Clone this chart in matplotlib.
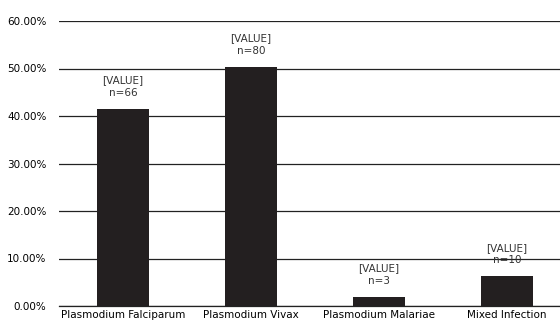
import matplotlib
matplotlib.use('Agg')
import matplotlib.pyplot as plt
from matplotlib.ticker import FuncFormatter

categories = ['Plasmodium Falciparum', 'Plasmodium Vivax', 'Plasmodium Malariae', 'Mixed Infection']
counts = [66, 80, 3, 10]
percent = [41.51, 50.31, 1.89, 6.29]
labels = ['[VALUE]\nn=66', '[VALUE]\nn=80', '[VALUE]\nn=3', '[VALUE]\nn=10']

plt.rcParams['font.family'] = ['Liberation Sans Narrow', 'DejaVu Sans']
plt.rcParams['font.size'] = 7

fig = plt.figure(figsize=(5.6, 3.25), dpi=100)
ax = fig.add_axes([59 / 560, 19 / 325, 501 / 560, 285 / 325])

x = range(len(categories))
ax.bar(x, percent, width=0.41, color='#231f20', zorder=3)

for xi, p, lab in zip(x, percent, labels):
    ax.annotate(lab, (xi, p), xytext=(0, 8), textcoords='offset points',
                ha='center', va='bottom', fontsize=7.5, color='#333333', linespacing=1.3)

ax.set_ylim(0, 60)
ax.set_xlim(-0.5, 3.5 - 11 / 128)
ax.set_yticks([0, 10, 20, 30, 40, 50, 60])
ax.yaxis.set_major_formatter(FuncFormatter(lambda v, pos: '%.2f%%' % v))
ax.set_xticks(list(x))
ax.set_xticklabels(categories, fontsize=7.5)
ax.grid(axis='y', color='#222222', linewidth=0.9, zorder=0)
ax.axhline(0, color='#222222', linewidth=0.9, zorder=4, clip_on=False)
for s in ax.spines.values():
    s.set_visible(False)
ax.tick_params(length=0, pad=3)
ax.tick_params(axis='y', pad=9, labelsize=7.5)

plt.savefig('out.png', dpi=100)
